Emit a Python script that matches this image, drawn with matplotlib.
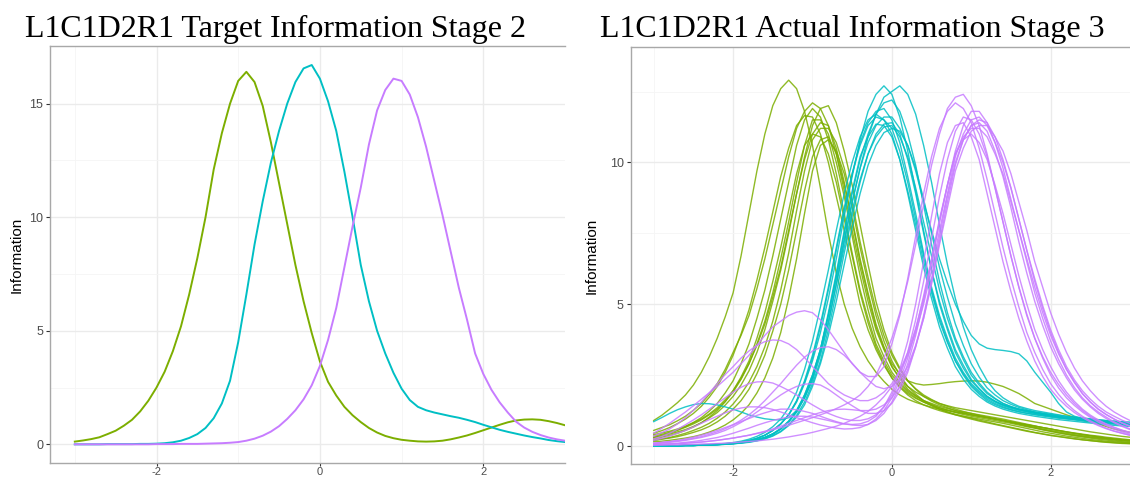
import matplotlib.pyplot as plt
import numpy as np

plt.rcParams['font.family'] = 'Liberation Sans'
plt.rcParams['axes.unicode_minus'] = False

# theta grid, step 0.1
theta = np.round(np.linspace(-3, 3, 61), 1)

# Target information (stage 2)
green_t = [0.12, 0.17, 0.23, 0.31, 0.45, 0.60, 0.82, 1.08, 1.45, 1.92,
           2.50, 3.20, 4.10, 5.20, 6.60, 8.20, 10.0, 12.1, 13.7, 15.0,
           16.0, 16.4, 15.95, 14.9, 13.3, 11.5, 9.7, 7.9, 6.3, 4.9,
           3.65, 2.75, 2.15, 1.65, 1.28, 0.98, 0.72, 0.52, 0.37, 0.27,
           0.20, 0.16, 0.13, 0.12, 0.13, 0.16, 0.22, 0.30, 0.39, 0.50,
           0.62, 0.74, 0.86, 0.97, 1.05, 1.09, 1.10, 1.08, 1.02, 0.94, 0.84]
cyan_t = [0.0, 0.0, 0.0, 0.0, 0.01, 0.01, 0.01, 0.01, 0.02, 0.02,
          0.03, 0.05, 0.09, 0.16, 0.28, 0.45, 0.72, 1.15, 1.80, 2.80,
          4.50, 6.60, 8.80, 10.7, 12.4, 13.8, 15.0, 15.95, 16.55, 16.7,
          16.1, 15.1, 13.8, 12.0, 10.0, 7.9, 6.3, 5.0, 4.0, 3.15,
          2.45, 1.95, 1.65, 1.50, 1.40, 1.32, 1.24, 1.17, 1.08, 0.98,
          0.86, 0.75, 0.64, 0.55, 0.47, 0.39, 0.32, 0.26, 0.19, 0.14, 0.10]
purple_t = [0.0, 0.0, 0.0, 0.0, 0.0, 0.0, 0.0, 0.0, 0.0, 0.0,
            0.01, 0.01, 0.01, 0.02, 0.02, 0.02, 0.03, 0.04, 0.05, 0.07,
            0.10, 0.16, 0.25, 0.38, 0.56, 0.80, 1.12, 1.50, 1.98, 2.60,
            3.45, 4.6, 6.0, 7.8, 9.6, 11.3, 13.2, 14.7, 15.6, 16.1,
            16.0, 15.4, 14.4, 13.1, 11.6, 10.1, 8.5, 6.9, 5.5, 4.0,
            3.1, 2.4, 1.85, 1.4, 1.0, 0.74, 0.55, 0.41, 0.30, 0.22, 0.16]

# Actual information (stage 3), one list per replication
green_a = [
    [0.9, 1.08, 1.3, 1.53, 1.8, 2.15, 2.6, 3.15, 3.8, 4.55, 5.4, 6.7, 8.2, 9.7, 11.0, 12.0, 12.6, 12.9, 12.6, 11.8,
     10.6, 9.1, 7.5, 6.1, 5.0, 4.15, 3.5, 3.0, 2.6, 2.28, 2.0, 1.8, 1.65, 1.54, 1.45, 1.37, 1.3, 1.25, 1.2, 1.15,
     1.1, 1.05, 1.0, 0.95, 0.9, 0.85, 0.8, 0.75, 0.7, 0.65, 0.6, 0.55, 0.5, 0.46, 0.42, 0.38, 0.35, 0.31, 0.28, 0.25, 0.22],
    [0.55, 0.65, 0.75, 0.89, 1.05, 1.26, 1.5, 1.82, 2.2, 2.7, 3.3, 3.9, 4.6, 5.55, 6.6, 7.8, 9.0, 10.2, 11.2, 11.8,
     12.1, 11.9, 11.3, 10.3, 9.0, 7.6, 6.3, 5.1, 4.1, 3.4, 2.8, 2.4, 2.1, 1.9, 1.75, 1.62, 1.5, 1.42, 1.35, 1.3,
     1.25, 1.2, 1.15, 1.1, 1.05, 1.0, 0.95, 0.9, 0.85, 0.8, 0.75, 0.7, 0.65, 0.6, 0.55, 0.5, 0.46, 0.42, 0.38, 0.34, 0.31],
    [0.4, 0.46, 0.52, 0.6, 0.7, 0.82, 0.95, 1.13, 1.35, 1.63, 1.95, 2.38, 2.9, 3.55, 4.3, 5.25, 6.3, 7.6, 8.9, 10.2,
     11.3, 11.9, 12.0, 11.4, 10.4, 9.2, 7.8, 6.4, 5.1, 4.1, 3.3, 2.75, 2.3, 2.0, 1.75, 1.58, 1.45, 1.35, 1.25, 1.17,
     1.1, 1.05, 1.0, 0.95, 0.9, 0.85, 0.8, 0.75, 0.7, 0.65, 0.6, 0.55, 0.5, 0.45, 0.4, 0.36, 0.32, 0.28, 0.25, 0.22, 0.2],
    [0.45, 0.54, 0.65, 0.79, 0.95, 1.15, 1.4, 1.72, 2.1, 2.6, 3.2, 3.95, 4.8, 5.85, 7.0, 8.25, 9.5, 10.5, 11.3, 11.65,
     11.6, 11.0, 10.0, 8.8, 7.6, 6.3, 5.0, 4.1, 3.4, 2.85, 2.4, 2.1, 1.85, 1.68, 1.55, 1.44, 1.35, 1.27, 1.2, 1.15,
     1.1, 1.05, 1.0, 0.95, 0.9, 0.84, 0.78, 0.72, 0.66, 0.6, 0.55, 0.5, 0.45, 0.4, 0.36, 0.32, 0.29, 0.26, 0.23, 0.2, 0.18],
    [0.35, 0.41, 0.48, 0.56, 0.66, 0.78, 0.92, 1.1, 1.3, 1.57, 1.9, 2.35, 2.9, 3.6, 4.4, 5.4, 6.6, 7.9, 9.3, 10.6,
     11.5, 11.5, 11.0, 10.0, 8.8, 7.4, 6.0, 4.8, 3.8, 3.15, 2.6, 2.25, 1.95, 1.76, 1.6, 1.5, 1.4, 1.32, 1.25, 1.2,
     1.15, 1.1, 1.05, 1.0, 0.95, 0.89, 0.83, 0.77, 0.71, 0.65, 0.6, 0.54, 0.49, 0.44, 0.4, 0.36, 0.32, 0.28, 0.25, 0.22, 0.2],
    [0.3, 0.36, 0.42, 0.5, 0.58, 0.69, 0.82, 0.99, 1.18, 1.44, 1.75, 2.15, 2.65, 3.3, 4.1, 5.1, 6.2, 7.5, 8.9, 10.1,
     11.0, 11.4, 11.3, 10.5, 9.3, 7.9, 6.5, 5.3, 4.2, 3.45, 2.8, 2.38, 2.0, 1.78, 1.6, 1.47, 1.35, 1.26, 1.18, 1.11,
     1.05, 1.0, 0.95, 0.9, 0.85, 0.8, 0.74, 0.68, 0.63, 0.57, 0.52, 0.47, 0.42, 0.38, 0.34, 0.3, 0.27, 0.24, 0.21, 0.18, 0.16],
    [0.25, 0.31, 0.37, 0.45, 0.55, 0.67, 0.82, 1.02, 1.25, 1.56, 1.95, 2.43, 3.0, 3.8, 4.7, 5.8, 7.0, 8.3, 9.6, 10.6,
     11.0, 10.9, 10.3, 9.3, 8.0, 6.7, 5.4, 4.35, 3.5, 2.9, 2.4, 2.07, 1.8, 1.6, 1.45, 1.34, 1.25, 1.17, 1.1, 1.05,
     1.0, 0.95, 0.9, 0.85, 0.8, 0.74, 0.68, 0.62, 0.56, 0.5, 0.45, 0.4, 0.35, 0.31, 0.27, 0.23, 0.2, 0.17, 0.15, 0.13, 0.11],
    [0.2, 0.24, 0.28, 0.33, 0.4, 0.48, 0.57, 0.69, 0.85, 1.05, 1.3, 1.6, 2.0, 2.55, 3.2, 4.05, 5.0, 6.2, 7.6, 9.0,
     10.2, 10.8, 10.9, 10.3, 9.2, 8.0, 6.6, 5.4, 4.3, 3.5, 2.9, 2.55, 2.3, 2.2, 2.15, 2.17, 2.2, 2.24, 2.27, 2.29,
     2.3, 2.29, 2.25, 2.18, 2.1, 1.98, 1.85, 1.68, 1.5, 1.4, 1.3, 1.2, 1.1, 1.01, 0.92, 0.85, 0.78, 0.69, 0.6, 0.54, 0.48],
    [0.15, 0.17, 0.2, 0.24, 0.28, 0.33, 0.4, 0.49, 0.6, 0.74, 0.92, 1.15, 1.45, 1.87, 2.4, 3.1, 4.0, 5.2, 6.6, 8.2,
     9.7, 10.6, 10.8, 10.4, 9.6, 8.4, 7.0, 5.75, 4.6, 3.7, 3.0, 2.5, 2.1, 1.83, 1.6, 1.44, 1.3, 1.2, 1.1, 1.02,
     0.95, 0.88, 0.82, 0.76, 0.7, 0.64, 0.58, 0.52, 0.47, 0.42, 0.37, 0.33, 0.29, 0.25, 0.22, 0.19, 0.16, 0.14, 0.12, 0.1, 0.09],
    [0.3, 0.37, 0.45, 0.56, 0.68, 0.83, 1.0, 1.23, 1.5, 1.87, 2.3, 2.9, 3.6, 4.5, 5.5, 6.7, 8.0, 9.3, 10.6, 11.5,
     11.9, 11.6, 10.8, 9.6, 8.2, 6.8, 5.5, 4.5, 3.6, 3.0, 2.5, 2.18, 1.9, 1.71, 1.55, 1.42, 1.3, 1.2, 1.12, 1.05,
     0.98, 0.91, 0.85, 0.78, 0.72, 0.66, 0.6, 0.54, 0.48, 0.43, 0.38, 0.34, 0.3, 0.26, 0.22, 0.19, 0.16, 0.13, 0.11, 0.09, 0.08],
    [0.2, 0.25, 0.3, 0.37, 0.45, 0.55, 0.66, 0.8, 0.98, 1.2, 1.48, 1.83, 2.25, 2.8, 3.5, 4.4, 5.5, 6.8, 8.3, 9.7,
     10.8, 11.2, 11.2, 10.7, 9.8, 8.6, 7.2, 5.95, 4.8, 3.9, 3.2, 2.7, 2.3, 2.02, 1.8, 1.64, 1.5, 1.4, 1.3, 1.22,
     1.15, 1.08, 1.02, 0.96, 0.9, 0.83, 0.77, 0.7, 0.64, 0.58, 0.52, 0.46, 0.41, 0.36, 0.32, 0.28, 0.24, 0.21, 0.18, 0.15, 0.13],
]
cyan_a = [
    [0.0, 0.0, 0.01, 0.01, 0.02, 0.02, 0.03, 0.04, 0.05, 0.07, 0.09, 0.12, 0.16, 0.22, 0.3, 0.42, 0.6, 0.85, 1.2, 1.7,
     2.3, 3.2, 4.3, 5.7, 7.2, 8.6, 9.8, 10.9, 11.7, 12.3, 12.5, 12.7, 12.4, 11.7, 10.6, 9.3, 7.8, 6.4, 5.2, 4.2,
     3.4, 2.8, 2.3, 1.95, 1.7, 1.53, 1.4, 1.32, 1.25, 1.2, 1.15, 1.1, 1.05, 1.01, 0.98, 0.95, 0.92, 0.89, 0.87, 0.85, 0.83],
    [0.0, 0.0, 0.01, 0.01, 0.02, 0.02, 0.03, 0.04, 0.05, 0.07, 0.1, 0.14, 0.19, 0.27, 0.38, 0.55, 0.78, 1.1, 1.55, 2.2,
     3.0, 4.0, 5.2, 6.6, 8.1, 9.5, 10.8, 11.8, 12.4, 12.7, 12.4, 11.6, 10.4, 9.0, 7.6, 6.2, 5.0, 4.1, 3.3, 2.75,
     2.3, 2.0, 1.75, 1.58, 1.45, 1.37, 1.3, 1.25, 1.2, 1.16, 1.12, 1.08, 1.05, 1.02, 0.99, 0.96, 0.93, 0.9, 0.88, 0.86, 0.84],
    [0.0, 0.0, 0.01, 0.01, 0.02, 0.02, 0.03, 0.04, 0.05, 0.06, 0.08, 0.11, 0.15, 0.21, 0.3, 0.43, 0.62, 0.88, 1.25, 1.8,
     2.5, 3.4, 4.6, 6.0, 7.5, 8.9, 10.1, 11.0, 11.7, 12.1, 12.2, 11.8, 11.0, 9.9, 8.5, 7.1, 5.8, 4.7, 3.8, 3.15,
     2.6, 2.22, 1.9, 1.68, 1.5, 1.39, 1.3, 1.24, 1.18, 1.13, 1.08, 1.04, 1.0, 0.96, 0.93, 0.9, 0.87, 0.84, 0.82, 0.8, 0.78],
    [0.0, 0.0, 0.01, 0.01, 0.02, 0.03, 0.04, 0.05, 0.07, 0.09, 0.12, 0.17, 0.24, 0.34, 0.48, 0.68, 0.95, 1.35, 1.9, 2.7,
     3.7, 4.9, 6.2, 7.6, 8.9, 10.0, 10.9, 11.5, 11.7, 11.5, 11.0, 10.1, 8.9, 7.6, 6.3, 5.2, 4.2, 3.45, 2.8, 2.35,
     2.0, 1.75, 1.55, 1.41, 1.3, 1.22, 1.15, 1.1, 1.05, 1.01, 0.97, 0.93, 0.9, 0.87, 0.84, 0.81, 0.78, 0.75, 0.73, 0.71, 0.69],
    [0.0, 0.0, 0.01, 0.01, 0.02, 0.02, 0.03, 0.04, 0.06, 0.08, 0.1, 0.14, 0.19, 0.27, 0.38, 0.55, 0.78, 1.1, 1.6, 2.3,
     3.2, 4.3, 5.6, 7.0, 8.4, 9.6, 10.6, 11.3, 11.6, 11.5, 11.2, 10.4, 9.3, 8.0, 6.7, 5.5, 4.5, 3.7, 3.0, 2.5,
     2.1, 1.83, 1.6, 1.46, 1.35, 1.27, 1.2, 1.15, 1.1, 1.06, 1.02, 0.98, 0.95, 0.92, 0.88, 0.85, 0.82, 0.79, 0.77, 0.75, 0.72],
    [0.0, 0.0, 0.01, 0.01, 0.02, 0.02, 0.03, 0.04, 0.05, 0.06, 0.08, 0.11, 0.14, 0.19, 0.26, 0.37, 0.52, 0.75, 1.08, 1.55,
     2.2, 3.0, 4.1, 5.4, 6.8, 8.1, 9.3, 10.3, 11.0, 11.35, 11.4, 11.0, 10.1, 8.9, 7.5, 6.2, 5.1, 4.2, 3.4, 2.85,
     2.35, 2.03, 1.75, 1.58, 1.45, 1.36, 1.28, 1.22, 1.16, 1.11, 1.07, 1.03, 0.99, 0.95, 0.92, 0.89, 0.86, 0.83, 0.8, 0.77, 0.75],
    [0.0, 0.0, 0.01, 0.01, 0.02, 0.02, 0.03, 0.04, 0.05, 0.07, 0.09, 0.12, 0.16, 0.22, 0.3, 0.42, 0.6, 0.85, 1.2, 1.72,
     2.4, 3.3, 4.4, 5.7, 7.0, 8.3, 9.4, 10.3, 10.9, 11.25, 11.3, 10.9, 10.2, 9.1, 7.9, 6.7, 5.5, 4.5, 3.7, 3.05,
     2.5, 2.15, 1.85, 1.66, 1.5, 1.39, 1.3, 1.23, 1.17, 1.12, 1.07, 1.03, 0.99, 0.95, 0.92, 0.89, 0.86, 0.83, 0.81, 0.78, 0.76],
    [0.0, 0.0, 0.01, 0.01, 0.02, 0.02, 0.03, 0.04, 0.05, 0.06, 0.08, 0.1, 0.13, 0.18, 0.25, 0.35, 0.5, 0.72, 1.02, 1.45,
     2.1, 2.9, 3.9, 5.1, 6.4, 7.7, 8.9, 9.9, 10.6, 11.05, 11.2, 11.1, 10.6, 9.8, 8.7, 7.5, 6.3, 5.25, 4.3, 3.55,
     2.9, 2.43, 2.05, 1.8, 1.6, 1.47, 1.36, 1.28, 1.2, 1.15, 1.1, 1.05, 1.01, 0.97, 0.94, 0.91, 0.88, 0.85, 0.82, 0.79, 0.77],
    [0.86, 1.0, 1.15, 1.28, 1.38, 1.46, 1.5, 1.49, 1.45, 1.38, 1.3, 1.2, 1.1, 1.02, 0.96, 0.93, 0.92, 1.0, 1.25, 1.7,
     2.4, 3.4, 4.7, 6.1, 7.6, 9.0, 10.2, 10.9, 11.35, 11.3, 10.9, 10.1, 9.0, 7.8, 6.5, 5.4, 4.4, 3.65, 3.0, 2.55,
     2.15, 1.88, 1.65, 1.5, 1.38, 1.29, 1.22, 1.16, 1.12, 1.08, 1.04, 1.0, 0.97, 0.94, 0.91, 0.88, 0.86, 0.83, 0.81, 0.79, 0.77],
    [0.0, 0.0, 0.01, 0.01, 0.02, 0.02, 0.03, 0.04, 0.05, 0.07, 0.09, 0.12, 0.16, 0.22, 0.3, 0.43, 0.6, 0.87, 1.25, 1.8,
     2.5, 3.4, 4.6, 5.9, 7.3, 8.6, 9.8, 10.7, 11.3, 11.6, 11.6, 11.2, 10.6, 9.7, 8.6, 7.6, 6.6, 5.75, 5.0, 4.4,
     3.9, 3.6, 3.45, 3.4, 3.37, 3.33, 3.25, 3.0, 2.6, 2.25, 1.9, 1.5, 1.2, 1.05, 0.97, 0.92, 0.88, 0.85, 0.82, 0.8, 0.78],
    [0.0, 0.0, 0.01, 0.01, 0.02, 0.02, 0.03, 0.04, 0.06, 0.08, 0.1, 0.14, 0.19, 0.27, 0.38, 0.55, 0.78, 1.1, 1.58, 2.25,
     3.1, 4.2, 5.5, 6.9, 8.3, 9.6, 10.7, 11.4, 11.8, 11.9, 11.5, 10.7, 9.5, 8.2, 6.8, 5.6, 4.6, 3.8, 3.1, 2.6,
     2.2, 1.93, 1.7, 1.55, 1.42, 1.33, 1.26, 1.2, 1.15, 1.11, 1.07, 1.03, 1.0, 0.97, 0.94, 0.91, 0.88, 0.86, 0.83, 0.81, 0.79],
]
purple_a = [
    [0.05, 0.06, 0.07, 0.08, 0.1, 0.12, 0.14, 0.17, 0.2, 0.24, 0.28, 0.33, 0.38, 0.44, 0.5, 0.57, 0.65, 0.73, 0.82, 0.91,
     1.0, 1.1, 1.2, 1.32, 1.45, 1.6, 1.8, 2.1, 2.5, 3.1, 3.8, 4.7, 5.8, 7.1, 8.5, 9.9, 11.0, 11.9, 12.3, 12.4,
     12.0, 11.3, 10.3, 9.1, 7.9, 6.7, 5.6, 4.6, 3.8, 3.1, 2.5, 2.05, 1.7, 1.43, 1.2, 1.01, 0.85, 0.72, 0.6, 0.5, 0.42],
    [0.45, 0.62, 0.8, 1.0, 1.2, 1.42, 1.65, 1.88, 2.1, 2.35, 2.6, 2.9, 3.2, 3.55, 3.9, 4.2, 4.4, 4.6, 4.72, 4.77,
     4.7, 4.45, 4.1, 3.7, 3.3, 2.9, 2.6, 2.45, 2.45, 2.8, 3.6, 4.6, 5.9, 7.4, 8.9, 10.2, 11.2, 11.8, 12.1, 11.9,
     11.4, 10.5, 9.4, 8.2, 7.0, 5.9, 4.9, 4.0, 3.3, 2.7, 2.2, 1.82, 1.5, 1.25, 1.05, 0.89, 0.75, 0.63, 0.53, 0.45, 0.38],
    [0.35, 0.47, 0.6, 0.78, 1.0, 1.26, 1.55, 1.87, 2.2, 2.52, 2.8, 3.1, 3.35, 3.55, 3.68, 3.74, 3.72, 3.6, 3.4, 3.12,
     2.8, 2.5, 2.2, 1.98, 1.8, 1.68, 1.6, 1.6, 1.7, 1.9, 2.2, 2.65, 3.3, 4.15, 5.2, 6.5, 7.9, 9.2, 10.4, 11.3,
     11.8, 11.8, 11.4, 10.7, 9.8, 8.7, 7.6, 6.5, 5.4, 4.5, 3.7, 3.05, 2.5, 2.06, 1.7, 1.42, 1.2, 1.02, 0.85, 0.72, 0.6],
    [0.1, 0.12, 0.15, 0.18, 0.22, 0.27, 0.33, 0.41, 0.5, 0.61, 0.75, 0.91, 1.1, 1.33, 1.6, 1.9, 2.2, 2.53, 2.85, 3.13,
     3.35, 3.47, 3.5, 3.4, 3.2, 2.92, 2.6, 2.33, 2.1, 2.02, 2.1, 2.35, 2.8, 3.55, 4.5, 5.8, 7.2, 8.6, 9.9, 10.8,
     11.3, 11.5, 11.4, 10.9, 10.1, 9.1, 8.0, 6.9, 5.8, 4.85, 4.0, 3.3, 2.7, 2.24, 1.85, 1.55, 1.3, 1.11, 0.95, 0.81, 0.7],
    [0.25, 0.34, 0.45, 0.59, 0.75, 0.92, 1.1, 1.3, 1.5, 1.7, 1.9, 2.07, 2.2, 2.26, 2.27, 2.22, 2.1, 1.96, 1.8, 1.62,
     1.45, 1.29, 1.15, 1.04, 0.95, 0.9, 0.9, 0.96, 1.1, 1.38, 1.8, 2.45, 3.3, 4.45, 5.8, 7.3, 8.8, 10.1, 11.1, 11.6,
     11.5, 11.0, 10.2, 9.1, 7.9, 6.7, 5.6, 4.65, 3.8, 3.15, 2.6, 2.17, 1.8, 1.5, 1.25, 1.05, 0.9, 0.77, 0.65, 0.55, 0.47],
    [0.08, 0.1, 0.13, 0.16, 0.2, 0.25, 0.3, 0.37, 0.45, 0.55, 0.68, 0.83, 1.0, 1.2, 1.4, 1.6, 1.8, 1.97, 2.1, 2.18,
     2.2, 2.15, 2.0, 1.8, 1.6, 1.42, 1.25, 1.15, 1.15, 1.25, 1.5, 1.95, 2.6, 3.5, 4.6, 5.9, 7.4, 8.8, 10.0, 10.8,
     11.3, 11.4, 11.1, 10.4, 9.5, 8.4, 7.2, 6.1, 5.1, 4.25, 3.5, 2.9, 2.4, 1.98, 1.65, 1.38, 1.15, 0.97, 0.82, 0.69, 0.58],
    [0.2, 0.27, 0.35, 0.45, 0.55, 0.67, 0.8, 0.93, 1.05, 1.17, 1.27, 1.34, 1.38, 1.38, 1.35, 1.29, 1.2, 1.1, 1.0, 0.91,
     0.82, 0.74, 0.68, 0.63, 0.6, 0.61, 0.65, 0.76, 0.95, 1.25, 1.7, 2.3, 3.1, 4.1, 5.3, 6.6, 8.0, 9.2, 10.3, 10.9,
     11.2, 11.2, 10.9, 10.3, 9.6, 8.6, 7.6, 6.6, 5.6, 4.7, 3.9, 3.25, 2.7, 2.25, 1.85, 1.55, 1.3, 1.11, 0.95, 0.81, 0.7],
    [0.1, 0.13, 0.16, 0.2, 0.25, 0.31, 0.38, 0.46, 0.55, 0.65, 0.75, 0.86, 0.97, 1.08, 1.17, 1.25, 1.3, 1.3, 1.28, 1.22,
     1.15, 1.05, 0.95, 0.86, 0.78, 0.74, 0.72, 0.76, 0.9, 1.15, 1.55, 2.1, 2.9, 3.9, 5.1, 6.5, 7.9, 9.2, 10.3, 10.8,
     11.0, 10.7, 10.1, 9.2, 8.2, 7.1, 6.0, 5.0, 4.1, 3.4, 2.8, 2.3, 1.9, 1.57, 1.3, 1.09, 0.92, 0.78, 0.66, 0.56, 0.48],
    [0.03, 0.03, 0.04, 0.04, 0.05, 0.06, 0.07, 0.08, 0.09, 0.1, 0.12, 0.14, 0.16, 0.18, 0.21, 0.24, 0.28, 0.32, 0.37, 0.42,
     0.48, 0.55, 0.62, 0.7, 0.8, 0.92, 1.05, 1.22, 1.45, 1.74, 2.1, 2.6, 3.2, 4.0, 5.0, 6.2, 7.6, 8.9, 10.2, 11.0,
     11.5, 11.6, 11.3, 10.7, 10.0, 9.1, 8.0, 6.9, 5.9, 4.95, 4.1, 3.4, 2.8, 2.33, 1.95, 1.65, 1.4, 1.2, 1.05, 0.91, 0.8],
    [0.05, 0.06, 0.08, 0.1, 0.13, 0.16, 0.2, 0.25, 0.3, 0.37, 0.45, 0.54, 0.63, 0.73, 0.82, 0.9, 0.97, 1.02, 1.05, 1.05,
     1.02, 0.96, 0.9, 0.83, 0.78, 0.76, 0.78, 0.87, 1.05, 1.38, 1.9, 2.7, 3.7, 5.0, 6.5, 8.1, 9.6, 10.7, 11.3, 11.4,
     10.9, 10.1, 8.9, 7.7, 6.5, 5.45, 4.5, 3.7, 3.0, 2.45, 2.0, 1.67, 1.4, 1.18, 1.0, 0.85, 0.72, 0.61, 0.52, 0.45, 0.38],
    [0.05, 0.06, 0.07, 0.08, 0.1, 0.12, 0.14, 0.17, 0.2, 0.24, 0.28, 0.33, 0.38, 0.45, 0.52, 0.6, 0.7, 0.8, 0.9, 1.0,
     1.1, 1.18, 1.25, 1.29, 1.3, 1.28, 1.25, 1.25, 1.3, 1.45, 1.7, 2.1, 2.7, 3.5, 4.5, 5.7, 7.1, 8.4, 9.7, 10.5,
     11.1, 11.3, 11.3, 10.9, 10.4, 9.6, 8.6, 7.6, 6.5, 5.6, 4.7, 3.95, 3.3, 2.75, 2.3, 1.95, 1.65, 1.4, 1.2, 1.04, 0.9],
]

GREEN, CYAN, PURPLE = '#7CAE00', '#00BFC4', '#C77CFF'
W, H = 1130, 480

fig = plt.figure(figsize=(W / 100, H / 100), dpi=100)


def px_axes(left, top, right, bottom):
    return fig.add_axes([left / W, 1 - bottom / H, (right - left) / W, (bottom - top) / H])


def style(ax, yticks, yminor):
    ax.set_xticks([-2, 0, 2])
    ax.set_xticks([-3, -1, 1, 3], minor=True)
    ax.set_yticks(yticks)
    ax.set_yticks(yminor, minor=True)
    ax.set_axisbelow(True)
    ax.grid(which='major', color='#EBEBEB', lw=1.0)
    ax.grid(which='minor', color='#F5F5F5', lw=0.6)
    ax.tick_params(which='major', length=2.75, width=0.8, color='#333333',
                   labelsize=9, labelcolor='#4D4D4D', pad=2.2)
    ax.tick_params(axis='x', which='major', length=2.5, labelsize=8, pad=0.3)
    ax.tick_params(which='minor', length=0)
    for side in ['left', 'top', 'bottom']:
        ax.spines[side].set_color('#A8A8A8')
        ax.spines[side].set_linewidth(1.0)
    ax.spines['right'].set_visible(False)


# left panel: target information
ax1 = px_axes(50.3, 45.7, 565, 463.3)
ax1.plot(theta, green_t, color=GREEN, lw=1.4)
ax1.plot(theta, cyan_t, color=CYAN, lw=1.4)
ax1.plot(theta, purple_t, color=PURPLE, lw=1.4)
ax1.set_xlim(-3.3, 2.92)
ax1.set_ylim(-0.835, 17.55)
style(ax1, [0, 5, 10, 15], [2.5, 7.5, 12.5])

# right panel: actual information
ax2 = px_axes(630.7, 46.7, 1130, 464.3)
for curve in green_a:
    ax2.plot(theta, curve, color=GREEN, lw=1.0, alpha=0.85)
for curve in cyan_a:
    ax2.plot(theta, curve, color=CYAN, lw=1.0, alpha=0.85)
for curve in purple_a:
    ax2.plot(theta, curve, color=PURPLE, lw=1.0, alpha=0.85)
ax2.set_xlim(-3.29, 2.89)
ax2.set_ylim(-0.645, 14.08)
style(ax2, [0, 5, 10], [2.5, 7.5, 12.5])

# titles and axis labels
fig.text(24.6 / W, 1 - 36.7 / H, 'L1C1D2R1 Target Information Stage 2',
         family='Liberation Serif', fontsize=23, va='baseline')
fig.text(600 / W, 1 - 36.7 / H, 'L1C1D2R1 Actual Information Stage 3',
         family='Liberation Serif', fontsize=23, va='baseline')
fig.text(16.5 / W, 1 - 254.5 / H, 'Information', rotation=90,
         ha='center', va='center', fontsize=11)
fig.text(592 / W, 1 - 255.5 / H, 'Information', rotation=90,
         ha='center', va='center', fontsize=11)

fig.savefig('out.png', dpi=100)
